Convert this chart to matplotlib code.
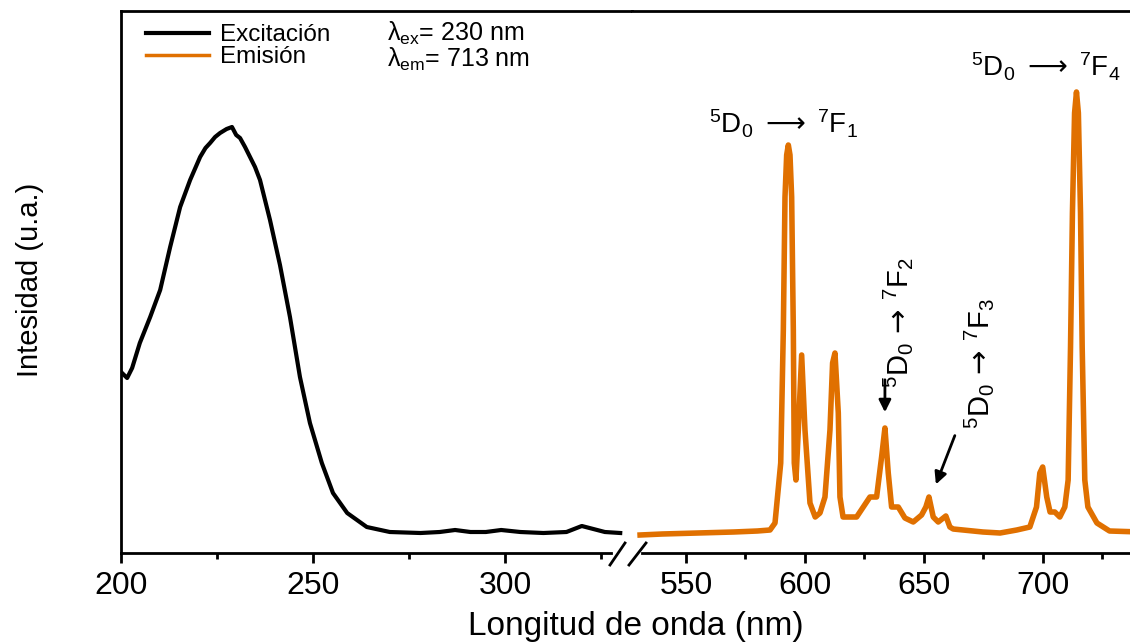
import numpy as np
import matplotlib
matplotlib.use('Agg')
import matplotlib.pyplot as plt
from matplotlib.lines import Line2D

plt.rcParams['font.family'] = ['Liberation Sans', 'DejaVu Sans']
plt.rcParams['mathtext.fontset'] = 'custom'
plt.rcParams['mathtext.rm'] = 'Liberation Sans'
plt.rcParams['mathtext.it'] = 'Liberation Sans:italic'
plt.rcParams['mathtext.bf'] = 'Liberation Sans:bold'
plt.rcParams['mathtext.sf'] = 'DejaVu Sans'
plt.rcParams['mathtext.default'] = 'regular'

# Espectro de excitacion (nm, u.a.)
exc_nm = [200.0, 200.8, 201.6, 202.9, 204.9, 207.6, 210.2, 212.8, 215.4, 218.0,
          220.6, 222.0, 223.2, 224.5, 225.8, 227.5, 228.9, 230.0, 231.0, 232.3,
          233.6, 234.9, 236.2, 238.8, 241.4, 244.0, 246.6, 249.2, 252.3, 255.2,
          258.9, 264.0, 270.0, 278.0, 283.0, 287.0, 291.0, 295.0, 299.0, 304.0,
          310.0, 316.0, 320.0, 323.0, 326.0, 330.0]
exc_I = [181, 178, 175, 185, 210, 236, 263, 306, 346, 373,
         396, 405, 410, 416, 420, 424, 426, 418, 415, 406,
         396, 386, 373, 333, 288, 236, 176, 130, 90, 60,
         40, 26, 21, 20, 21, 23, 21, 21, 23, 21,
         20, 21, 27, 24, 21, 20]

# Espectro de emision (nm, u.a.)
em_nm = [530.7, 540.0, 555.0, 570.0, 580.0, 585.3, 587.4, 589.8, 590.9, 591.6,
         592.3, 593.0, 593.7, 594.4, 595.1, 595.5, 596.2, 597.2, 598.6, 600.0,
         602.1, 604.3, 606.3, 608.4, 610.5, 611.6, 612.6, 614.0, 614.7, 616.0,
         621.7, 627.3, 630.1, 632.2, 633.6, 635.0, 636.4, 639.2, 642.0, 645.5,
         649.0, 650.8, 652.1, 653.9, 656.0, 659.2, 660.9, 662.3, 674.8, 682.0,
         689.0, 694.5, 697.3, 698.7, 699.9, 701.6, 703.0, 705.0, 707.1, 709.2,
         710.6, 711.6, 712.4, 713.3, 714.1, 714.9, 715.8, 716.5, 717.6, 718.9,
         722.7, 728.0, 741.0]
em_I = [18, 19, 20, 21, 22, 23, 30, 90, 223, 356,
        398, 408, 398, 356, 223, 90, 73, 123, 198, 123,
        50, 36, 40, 56, 123, 190, 200, 140, 56, 36,
        36, 56, 56, 96, 125, 80, 46, 46, 35, 31,
        38, 46, 56, 36, 31, 37, 26, 24, 21, 20,
        23, 26, 46, 80, 86, 56, 41, 41, 36, 46,
        73, 206, 340, 440, 461, 440, 340, 206, 73, 46,
        30, 22, 21]

W, H = 1130, 644
fig = plt.figure(figsize=(W / 100, H / 100), dpi=100)
ax1 = fig.add_axes([121 / W, 1 - 553 / H, (632 - 121) / W, 542 / H])
ax2 = fig.add_axes([632 / W, 1 - 553 / H, (1140 - 632) / W, 542 / H])

black = '#000000'
orange = '#E07000'
ax1.plot(exc_nm, exc_I, color=black, lw=3)
ax2.plot(em_nm, em_I, color=orange, lw=4)

ax1.set_xlim(200, 333.07)
ax2.set_xlim(527.3, 740.8)
for ax in (ax1, ax2):
    ax.set_ylim(0, 542)
    ax.set_yticks([])
    ax.spines['right'].set_visible(False)
    ax.spines['top'].set_linewidth(2)
    ax.spines['bottom'].set_linewidth(2)
    ax.tick_params(axis='x', which='major', length=7, width=2, labelsize=23, pad=6)
    ax.tick_params(axis='x', which='minor', length=4, width=2)
ax1.spines['left'].set_linewidth(2)
ax2.spines['left'].set_visible(False)
ax1.spines['bottom'].set_bounds(200, 327.5)
ax2.spines['bottom'].set_bounds(531.5, 740.8)

ax1.set_xticks([200, 250, 300])
ax1.set_xticks([225, 275, 325], minor=True)
ax2.set_xticks([550, 600, 650, 700])
ax2.set_xticks([575, 625, 675, 725], minor=True)

# marcas del corte del eje
for x0, x1 in [(610, 625), (629, 646)]:
    fig.add_artist(Line2D([x0 / W, x1 / W], [1 - 565 / H, 1 - 543 / H],
                          color='black', lw=2))

fig.text(636 / W, 1 - 642 / H, 'Longitud de onda (nm)', fontsize=24,
         ha='center', va='bottom')
fig.text(30 / W, 1 - 280 / H, 'Intesidad (u.a.)', fontsize=21, rotation=90,
         ha='center', va='center')

handles = [Line2D([], [], color=black, lw=3), Line2D([], [], color=orange, lw=2.5)]
ax1.legend(handles, ['Excitación', 'Emisión'], loc='upper left',
           bbox_to_anchor=(146 / W, 1 - 24 / H), bbox_transform=fig.transFigure,
           frameon=False, fontsize=17.5, handlelength=2.6, handletextpad=0.45,
           labelspacing=0.0, borderpad=0, borderaxespad=0)

fig.text(387 / W, 1 - 33 / H, r'$\lambda_{ex}$= 230 nm', fontsize=18, va='center')
fig.text(387 / W, 1 - 59 / H, r'$\lambda_{em}$= 713 nm', fontsize=18, va='center')

lab1 = r'$^{5}D_{0}\ \mathsf{\longrightarrow}\ ^{7}F_{1}$'
lab4 = r'$^{5}D_{0}\ \mathsf{\longrightarrow}\ ^{7}F_{4}$'
lab2 = r'$^{5}D_{0}\,\mathsf{\rightarrow}\,^{7}F_{2}$'
lab3 = r'$^{5}D_{0}\,\mathsf{\rightarrow}\,^{7}F_{3}$'
ax2.text(590.8, 429, lab1, fontsize=20, ha='center', va='center')
ax2.text(701.3, 486, lab4, fontsize=20, ha='center', va='center')
ax2.text(639.3, 230, lab2, fontsize=21, ha='center', va='center', rotation=90)
ax2.text(673.0, 190, lab3, fontsize=21, ha='center', va='center', rotation=90)

arrow = dict(arrowstyle='-|>', color='black', lw=2, mutation_scale=18)
ax2.annotate('', xy=(633.6, 138), xytext=(633.6, 176), arrowprops=arrow)
ax2.annotate('', xy=(654.6, 66), xytext=(663.4, 120), arrowprops=arrow)

fig.savefig('out.png', dpi=100)
